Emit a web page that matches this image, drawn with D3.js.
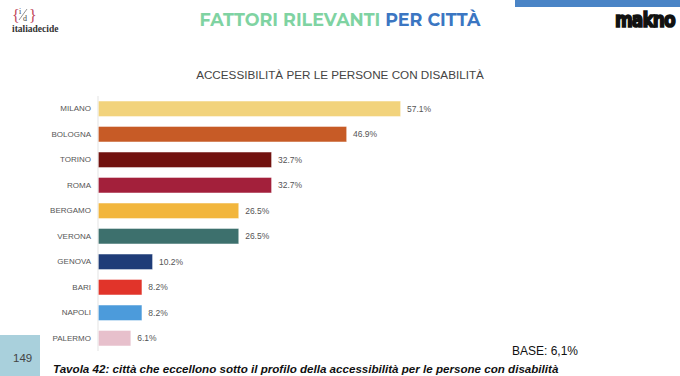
<!DOCTYPE html>
<html>
<head>
<meta charset="utf-8">
<script src="https://cdn.jsdelivr.net/npm/d3@7"></script>
<style>
  html, body { margin: 0; padding: 0; background: #fff; }
  svg { display: block; font-family: "Liberation Sans", Arial, sans-serif; }
</style>
</head>
<body>
<svg id="chart" width="680" height="376"></svg>
<script>
const cities = ["MILANO", "BOLOGNA", "TORINO", "ROMA", "BERGAMO", "VERONA", "GENOVA", "BARI", "NAPOLI", "PALERMO"];
const values = [57.1, 46.9, 32.7, 32.7, 26.5, 26.5, 10.2, 8.2, 8.2, 6.1];
const barColors = ["#f2d37c", "#c75b26", "#72120f", "#a3203b", "#f2b63d", "#3d706d", "#1f3c78", "#e1342a", "#4c9bdb", "#e7c0cc"];

const svg = d3.select("#chart");
const margin = {left: 98, top: 96, bottom: 26};
const plotH = 351 - margin.top;

const x = d3.scaleLinear().domain([0, 57.1]).range([margin.left, 400]);
const y = d3.scaleBand().domain(cities).range([margin.top, margin.top + plotH]).paddingInner(0.4).paddingOuter(0.2);

// header decorations
svg.append("rect").attr("x", 515).attr("y", 0).attr("width", 165).attr("height", 7).attr("fill", "#4a84c6");

const title = svg.append("text").attr("x", 340).attr("y", 26).attr("text-anchor", "middle")
  .style("font-family", "Montserrat, 'Open Sans', sans-serif").style("font-weight", 700).style("font-size", "17.5px");
title.append("tspan").attr("fill", "#7fd3a2").text("FATTORI RILEVANTI ");
title.append("tspan").attr("fill", "#3b76c2").text("PER CITTÀ");

// italiadecide logo
const logo = svg.append("g").style("font-family", "'Liberation Serif', 'DejaVu Serif', serif");
logo.append("text").attr("x", 12).attr("y", 21).attr("fill", "#c0455a").style("font-size", "16px").text("{");
logo.append("text").attr("x", 29).attr("y", 21).attr("fill", "#c0455a").style("font-size", "16px").text("}");
logo.append("text").attr("x", 19).attr("y", 14).attr("fill", "#444").style("font-size", "8px").text("i");
logo.append("line").attr("x1", 19).attr("y1", 20).attr("x2", 27).attr("y2", 9).attr("stroke", "#666").attr("stroke-width", 0.7);
logo.append("text").attr("x", 23).attr("y", 21).attr("fill", "#444").style("font-size", "8px").text("d");
logo.append("text").attr("x", 12).attr("y", 32).attr("fill", "#333").style("font-size", "9.5px").style("font-weight", 700).text("italiadecide");

// makno logo
svg.append("text").attr("x", 0).attr("y", 0)
  .attr("transform", "translate(615,27) scale(1.58,1.75)")
  .style("font-family", "'DejaVu Sans Condensed', 'DejaVu Sans', sans-serif")
  .style("font-weight", 900).style("font-size", "12px").style("letter-spacing", "-0.6px")
  .attr("fill", "#111").attr("stroke", "#111").attr("stroke-width", 0.9).text("makno");

// subtitle
svg.append("text").attr("x", 340).attr("y", 79).attr("text-anchor", "middle")
  .attr("fill", "#444").style("font-size", "11.7px").text("ACCESSIBILITÀ PER LE PERSONE CON DISABILITÀ");

// axis line
svg.append("line").attr("x1", margin.left).attr("x2", margin.left)
  .attr("y1", margin.top).attr("y2", margin.top + plotH).attr("stroke", "#e3e3e3").attr("stroke-width", 1);

const yAxis = svg.append("g").attr("transform", `translate(${margin.left},0)`)
  .call(d3.axisLeft(y).tickSize(0).tickPadding(7));
yAxis.select(".domain").remove();
yAxis.selectAll("text").attr("fill", "#555").style("font-size", "8px")
  .style("font-family", "'Liberation Sans', Arial, sans-serif");

svg.append("g").selectAll("rect").data(cities).join("rect")
  .attr("x", margin.left + 0.5)
  .attr("y", d => y(d))
  .attr("width", (d, i) => x(values[i]) - margin.left)
  .attr("height", y.bandwidth())
  .attr("fill", (d, i) => barColors[i])
  .attr("stroke", "#fff").attr("stroke-opacity", 0.5).attr("stroke-width", 0.5);

svg.append("g").selectAll("text").data(cities).join("text")
  .attr("x", (d, i) => x(values[i]) + 7)
  .attr("y", d => y(d) + y.bandwidth() / 2)
  .attr("dy", "0.35em")
  .attr("fill", "#555").style("font-size", "8.5px")
  .text((d, i) => values[i].toFixed(1) + "%");

// footer
svg.append("rect").attr("x", 0).attr("y", 335).attr("width", 40).attr("height", 41).attr("fill", "#a9d0dc");
svg.append("text").attr("x", 13).attr("y", 362).attr("fill", "#444").style("font-size", "11.5px").text("149");
svg.append("text").attr("x", 512).attr("y", 355).attr("fill", "#111").style("font-size", "12px").text("BASE: 6,1%");
svg.append("text").attr("x", 53).attr("y", 373).attr("fill", "#111")
  .style("font-size", "11.6px").style("font-weight", 700).style("font-style", "italic")
  .text("Tavola 42: città che eccellono sotto il profilo della accessibilità per le persone con disabilità");
</script>
</body>
</html>
